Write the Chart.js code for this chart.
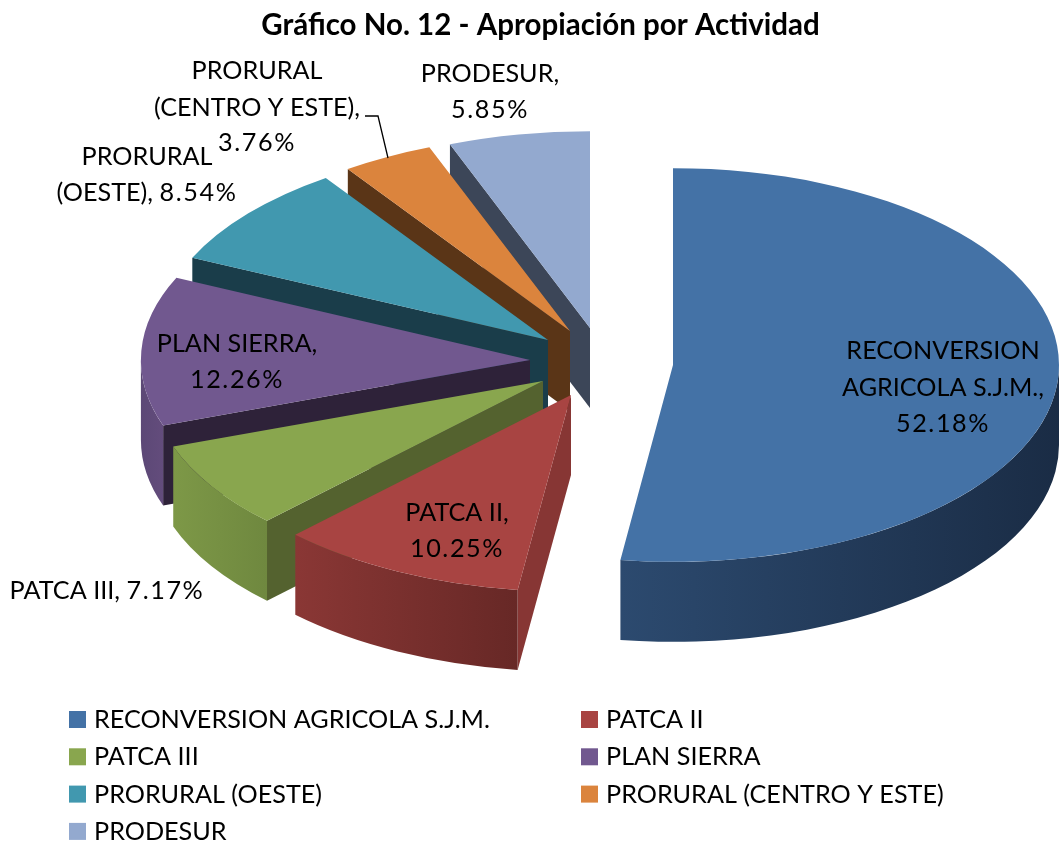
<!DOCTYPE html>
<html><head><meta charset="utf-8">
<style>html,body{margin:0;padding:0;background:#fff;overflow:hidden}canvas{display:block}</style>
<script src="https://cdn.jsdelivr.net/npm/chart.js@4/dist/chart.umd.min.js"></script>
</head><body>
<canvas id="c" width="1059" height="843"></canvas>
<script>
const titleText = 'Gráfico No. 12 - Apropiación por Actividad';
const categories = ['RECONVERSION AGRICOLA S.J.M.','PATCA II','PATCA III','PLAN SIERRA','PRORURAL (OESTE)','PRORURAL (CENTRO Y ESTE)','PRODESUR'];
const values = [52.18,10.25,7.17,12.26,8.54,3.76,5.85];
const topColors = ['#4472a6','#a84442','#89a64e','#71588f','#4198af','#db843d','#93a9cf'];
const edgeColors = ['#1a2c45','#873634','#54622f','#2e2239','#1a3d4a','#5a3517','#3c4658'];
const wallLeft = ['#2c4a6f','#8a3735','#7d9847','#5c4876','#35798c','#b06a30','#76889f'];
const wallRight = ['#1a2c45','#672826','#6f883f','#634c7c','#35798c','#b06a30','#76889f'];
const explodeX = [81,-21,-49,-62,-44,-22,-2];
const explodeY = [5,35,21,0,-20,-29,-32];
const stretchX = [1,1.015,1.016,1.008,1.014,1.014,1.01];
const paintOrder = [6,5,4,3,2,1,0];
const labelLines = [['RECONVERSION','AGRICOLA S.J.M.,','52.18%'],['PATCA II,','10.25%'],['PATCA III, 7.17%'],['PLAN SIERRA,','12.26%'],['PRORURAL','(OESTE), 8.54%'],['PRORURAL','(CENTRO Y ESTE),','3.76%'],['PRODESUR,','5.85%']];
const labelCenterX = [943,457,107,237,147,257,490];
const labelRowsY = [[351,388,424],[513,549],[591],[344,380],[157,193],[71,108,143],[74,110]];

const PIE_X = 592, PIE_Y = 360, SQUASH = 0.51, DEPTH = 80, RADIUS = 386;
const FONT = 'Lato, Carlito, sans-serif';

// digits in this font run narrower than in the original, so they get a little tracking
function spacedText(ctx,text,cx,y){
  const parts = text.split(/([\d.%]*\d[\d.%]*)/).filter(Boolean);
  const spacing = s=>/\d/.test(s)?'1.6px':'0px';
  let total = 0;
  const w = parts.map(s=>{ctx.letterSpacing=spacing(s);const m=ctx.measureText(s).width;total+=m;return m;});
  let x = cx-total/2;
  ctx.textAlign='left';
  parts.forEach((s,k)=>{ctx.letterSpacing=spacing(s);ctx.fillText(s,x,y);x+=w[k];});
  ctx.letterSpacing='0px';
}

const pie3d = {
  id:'pie3d',
  beforeDatasetDraw(chart){
    const ctx = chart.ctx, arcs = chart.getDatasetMeta(0).data;
    paintOrder.forEach(i=>{
      const el = arcs[i];
      const p = el.getProps(['x','y','startAngle','endAngle','outerRadius'],true);
      const ax = PIE_X+explodeX[i], ay = PIE_Y+explodeY[i], Rx = p.outerRadius*stretchX[i], rY = p.outerRadius*SQUASH;
      const sx = ax+Rx*Math.cos(p.startAngle), sy = ay+rY*Math.sin(p.startAngle);
      ctx.fillStyle = edgeColors[i];
      ctx.beginPath();ctx.moveTo(ax,ay);ctx.lineTo(sx,sy);ctx.lineTo(sx,sy+DEPTH);ctx.lineTo(ax,ay+DEPTH);ctx.closePath();ctx.fill();
      const a0 = Math.max(p.startAngle,0), a1 = Math.min(p.endAngle,Math.PI);
      if(a1>a0){
        const x0 = ax+Rx*Math.cos(a0), x1 = ax+Rx*Math.cos(a1);
        const g = ctx.createLinearGradient(Math.min(x0,x1),0,Math.max(x0,x1),0);
        g.addColorStop(0,wallLeft[i]);g.addColorStop(1,wallRight[i]);
        ctx.fillStyle = g;
        ctx.beginPath();
        ctx.ellipse(ax,ay,Rx,rY,0,a0,a1,false);
        ctx.ellipse(ax,ay+DEPTH,Rx,rY,0,a1,a0,true);
        ctx.closePath();ctx.fill();
      }
      ctx.save();
      ctx.translate(ax,ay);ctx.scale(stretchX[i],SQUASH);ctx.translate(-p.x,-p.y);
      el.draw(ctx);
      ctx.restore();
    });
    return false;
  },
  afterDraw(chart){
    const ctx = chart.ctx;
    ctx.save();
    ctx.strokeStyle='#000';ctx.lineWidth=1.3;
    ctx.beginPath();ctx.moveTo(365,116);ctx.lineTo(378,116);ctx.lineTo(388,158);ctx.stroke();
    ctx.fillStyle='#000';ctx.textBaseline='middle';
    ctx.font='25.2px '+FONT;
    labelLines.forEach((rows,i)=>rows.forEach((t,j)=>spacedText(ctx,t,labelCenterX[i],labelRowsY[i][j])));
    ctx.textAlign='left';
    categories.forEach((c,i)=>{
      const col=i%2,row=Math.floor(i/2);
      const bx=col?581:69, by=711+row*37.3;
      ctx.fillStyle=topColors[i];ctx.fillRect(bx,by,17,17);
      ctx.fillStyle='#000';ctx.fillText(c,bx+25,by+9);
    });
    ctx.restore();
  }
};

new Chart(document.getElementById('c'),{
  type:'pie',
  data:{labels:categories,datasets:[{data:values,backgroundColor:topColors,borderWidth:0,radius:RADIUS}]},
  options:{
    responsive:false,animation:false,events:[],
    layout:{padding:{left:22,top:0}},
    plugins:{
      legend:{display:false},tooltip:{enabled:false},
      title:{display:true,text:titleText,color:'#000',font:{family:FONT,size:29.5,weight:'bold'},padding:{top:8,bottom:4}}
    }
  },
  plugins:[pie3d]
});
</script>
</body></html>
